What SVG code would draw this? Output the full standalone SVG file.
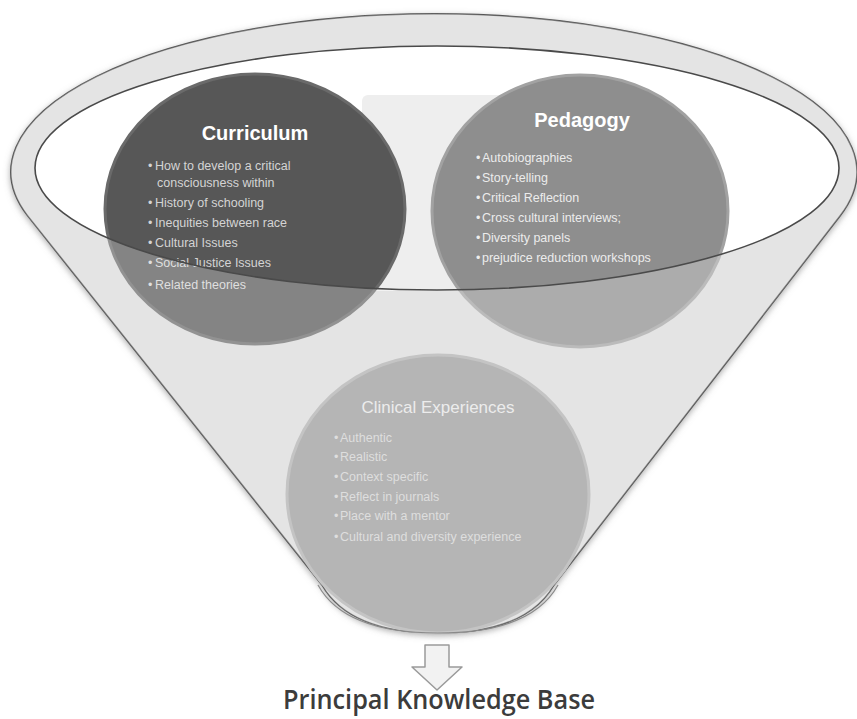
<svg xmlns="http://www.w3.org/2000/svg" width="857" height="719" viewBox="0 0 857 719">
  <defs>
    <style>
      .title { font-family: "Liberation Sans", Arial, sans-serif; font-weight: bold; font-size: 20px; fill: #ffffff; text-anchor: middle; }
      .item { font-family: "Liberation Sans", Arial, sans-serif; font-size: 12.5px; }
      .cur { fill: #d4d4d4; }
      .ped { fill: #ececec; }
      .cli { fill: #dedede; }
      .cliTitle { font-family: "Liberation Sans", Arial, sans-serif; font-size: 17px; fill: #ececec; text-anchor: middle; }
      .label { font-family: "Open Sans", "Liberation Sans", sans-serif; font-weight: 600; font-size: 27px; fill: #3c3c3c; text-anchor: middle; }
    </style>
    <filter id="shadow" x="-5%" y="-5%" width="110%" height="110%">
      <feDropShadow dx="0" dy="2" stdDeviation="3" flood-color="#777" flood-opacity="0.6"/>
    </filter>
  </defs>
  <rect width="857" height="719" fill="#ffffff"/>

  <g id="funnel">
    <path d="M 27.3,215.4 A 423 158 0 1 1 840,216 L 554,585 C 531,625 481,633 438,633 C 395,633 345,625 322,585 Z" fill="#dadada" stroke="#555" stroke-width="1.5" filter="url(#shadow)"/>
    <ellipse cx="437" cy="168" rx="402" ry="122" fill="#ffffff"/>
    <rect x="362" y="95" width="142" height="196" rx="6" fill="#eeeeee"/>
  </g>

  <g id="curriculum">
    <ellipse cx="255" cy="209" rx="150" ry="135" fill="#575757" stroke="#6a6a6a" stroke-width="3"/>
    <text class="title" x="255" y="140">Curriculum</text>
    <text class="item cur">
      <tspan x="148" y="170">•</tspan><tspan x="155">How to develop a critical</tspan>
      <tspan x="157" y="187">consciousness within</tspan>
      <tspan x="148" y="207">•</tspan><tspan x="155">History of schooling</tspan>
      <tspan x="148" y="227">•</tspan><tspan x="155">Inequities between race</tspan>
      <tspan x="148" y="247">•</tspan><tspan x="155">Cultural Issues</tspan>
      <tspan x="148" y="267">•</tspan><tspan x="155">Social Justice Issues</tspan>
      <tspan x="148" y="289">•</tspan><tspan x="155">Related theories</tspan>
    </text>
  </g>

  <g id="pedagogy">
    <ellipse cx="580" cy="211" rx="148" ry="136" fill="#8e8e8e" stroke="#a2a2a2" stroke-width="3"/>
    <text class="title" x="582" y="127">Pedagogy</text>
    <text class="item ped">
      <tspan x="476" y="162">•</tspan><tspan x="482">Autobiographies</tspan>
      <tspan x="476" y="182">•</tspan><tspan x="482">Story-telling</tspan>
      <tspan x="476" y="202">•</tspan><tspan x="482">Critical Reflection</tspan>
      <tspan x="476" y="222">•</tspan><tspan x="482">Cross cultural interviews;</tspan>
      <tspan x="476" y="242">•</tspan><tspan x="482">Diversity panels</tspan>
      <tspan x="476" y="262">•</tspan><tspan x="482">prejudice reduction workshops</tspan>
    </text>
  </g>

  <g id="front">
    <path d="M 27.3,215.4 A 423 158 0 1 1 840,216 L 554,585 C 531,625 481,633 438,633 C 395,633 345,625 322,585 Z M 35,168 A 402 122 0 1 0 839,168 A 402 122 0 1 0 35,168 Z" fill="#ffffff" fill-opacity="0.27" fill-rule="evenodd"/>
    <ellipse cx="437" cy="168" rx="402" ry="122" fill="none" stroke="#4a4a4a" stroke-width="1.6"/>
  </g>

  <g id="clinical">
    <ellipse cx="438" cy="494" rx="151" ry="139" fill="#b5b5b5" stroke="#c4c4c4" stroke-width="3"/>
    <path d="M 318,585 C 340,625 395,633 438,633 C 481,633 536,625 558,585" fill="none" stroke="#8a8a8a" stroke-width="1.2"/>
    <text class="cliTitle" x="438" y="413">Clinical Experiences</text>
    <text class="item cli">
      <tspan x="334" y="442">•</tspan><tspan x="340">Authentic</tspan>
      <tspan x="334" y="461">•</tspan><tspan x="340">Realistic</tspan>
      <tspan x="334" y="481">•</tspan><tspan x="340">Context specific</tspan>
      <tspan x="334" y="501">•</tspan><tspan x="340">Reflect in journals</tspan>
      <tspan x="334" y="520">•</tspan><tspan x="340">Place with a mentor</tspan>
      <tspan x="334" y="541">•</tspan><tspan x="340">Cultural and diversity experience</tspan>
    </text>
  </g>

  <g id="connectors">
    <path d="M 425,645 L 449,645 L 449,667 L 462,667 L 437,690 L 412,667 L 425,667 Z" fill="#f2f2f2" stroke="#9a9a9a" stroke-width="1.5" stroke-linejoin="round"/>
  </g>

  <g id="label">
    <text class="label" x="439" y="709" textLength="312" lengthAdjust="spacingAndGlyphs">Principal Knowledge Base</text>
  </g>
</svg>
